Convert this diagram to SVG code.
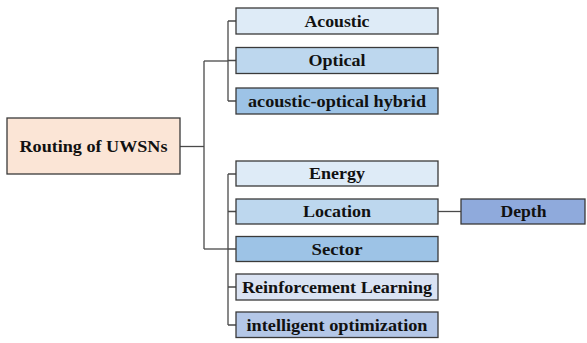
<svg xmlns="http://www.w3.org/2000/svg" width="587" height="343" viewBox="0 0 587 343">
  <style>
    .box { stroke: #3a3a3a; stroke-width: 1.3; }
    .lbl { font-family: 'Liberation Serif', 'Times New Roman', serif; font-weight: 700; font-size: 16.5px; fill: #111; text-anchor: middle; }
    .wire { fill: none; stroke: #4a4a4a; stroke-width: 1.3; }
  </style>
  <rect width="587" height="343" fill="#ffffff"/>

  <!-- connectors -->
  <g id="connectors" class="wire">
    <!-- root to main trunk -->
    <path d="M180 146.5 H204"/>
    <path d="M204 61 V249"/>
    <!-- medium group -->
    <path d="M204 61 H228"/>
    <path d="M228 21 V101"/>
    <path d="M228 21 H236 M228 60.5 H236 M228 101 H236"/>
    <!-- metric group -->
    <path d="M204 249 H228"/>
    <path d="M228 174 V325"/>
    <path d="M228 174 H236 M228 211.5 H236 M228 249 H236 M228 287 H236 M228 325 H236"/>
    <!-- location to depth -->
    <path d="M438 211.5 H461"/>
  </g>

  <g id="root">
    <rect class="box" x="7" y="118" width="173" height="56" fill="#FBE5D6"/>
    <text class="lbl" x="93.5" y="152" textLength="148" lengthAdjust="spacingAndGlyphs">Routing of UWSNs</text>
  </g>

  <g id="acoustic">
    <rect class="box" x="236" y="8" width="202" height="26" fill="#DEEBF7"/>
    <text class="lbl" x="337" y="26.5" textLength="65" lengthAdjust="spacingAndGlyphs">Acoustic</text>
  </g>
  <g id="optical">
    <rect class="box" x="236" y="47.5" width="202" height="26" fill="#BDD7EE"/>
    <text class="lbl" x="337" y="66" textLength="57" lengthAdjust="spacingAndGlyphs">Optical</text>
  </g>
  <g id="hybrid">
    <rect class="box" x="236" y="88" width="202" height="26" fill="#9DC3E6"/>
    <text class="lbl" x="337" y="106.5" textLength="178" lengthAdjust="spacingAndGlyphs">acoustic-optical hybrid</text>
  </g>

  <g id="energy">
    <rect class="box" x="236" y="161" width="202" height="25" fill="#DEEBF7"/>
    <text class="lbl" x="337" y="179" textLength="56" lengthAdjust="spacingAndGlyphs">Energy</text>
  </g>
  <g id="location">
    <rect class="box" x="236" y="199" width="202" height="25" fill="#BDD7EE"/>
    <text class="lbl" x="337" y="217" textLength="68" lengthAdjust="spacingAndGlyphs">Location</text>
  </g>
  <g id="sector">
    <rect class="box" x="236" y="236.5" width="202" height="25" fill="#9DC3E6"/>
    <text class="lbl" x="337" y="254.5" textLength="51" lengthAdjust="spacingAndGlyphs">Sector</text>
  </g>
  <g id="reinforcement-learning">
    <rect class="box" x="236" y="274" width="202" height="26" fill="#DAE3F3"/>
    <text class="lbl" x="337" y="292.5" textLength="190" lengthAdjust="spacingAndGlyphs">Reinforcement Learning</text>
  </g>
  <g id="intelligent-optimization">
    <rect class="box" x="236" y="312" width="202" height="25.5" fill="#B4C7E7"/>
    <text class="lbl" x="337" y="330.5" textLength="181" lengthAdjust="spacingAndGlyphs">intelligent optimization</text>
  </g>

  <g id="depth">
    <rect class="box" x="461" y="199" width="124" height="25" fill="#8FAADC"/>
    <text class="lbl" x="523.5" y="217" textLength="46" lengthAdjust="spacingAndGlyphs">Depth</text>
  </g>
</svg>
